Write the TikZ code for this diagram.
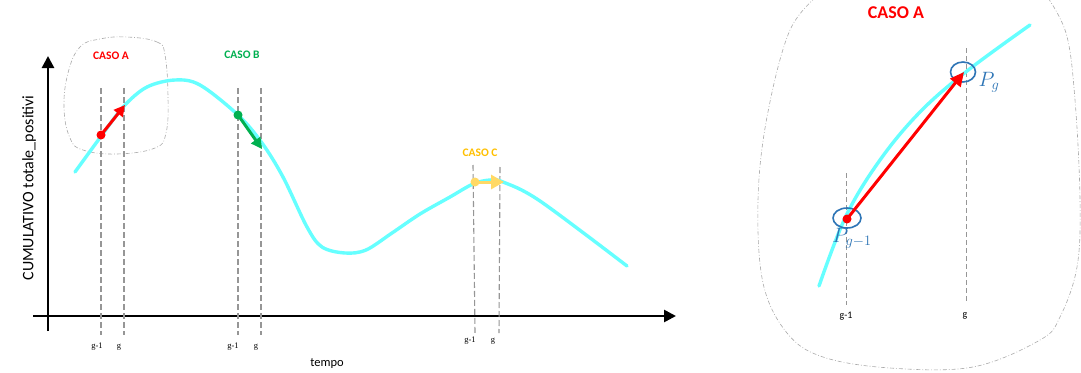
\documentclass[tikz,border=0pt]{standalone}
\usepackage{fontspec}
\setmainfont{Carlito}
\newfontfamily\tickfont{Liberation Serif}
\usetikzlibrary{arrows.meta,shapes.geometric}
\definecolor{curvecyan}{RGB}{102,255,255}
\definecolor{caseA}{RGB}{255,0,0}
\definecolor{caseB}{RGB}{0,176,80}
\definecolor{caseC}{RGB}{255,192,0}
\definecolor{arrowC}{RGB}{255,217,102}
\definecolor{pblue}{RGB}{46,117,182}
\definecolor{dashgray}{RGB}{150,150,150}
\definecolor{blobgray}{RGB}{170,170,170}
\begin{document}
\begin{tikzpicture}[x=1pt,y=-1pt,
  axis/.style={line width=2.6pt,-{Triangle[length=12pt,width=12pt]}},
  curveline/.style={curvecyan,line width=3.4pt,line cap=round},
  guide/.style={dashgray,line width=1.1pt,dash pattern=on 6pt off 3pt},
  blob/.style={blobgray,line width=0.6pt,dash pattern=on 4pt off 2pt on 0.8pt off 2pt},
  dot/.style={circle,fill=#1,inner sep=0pt,minimum size=9pt},
  vec/.style={#1,line width=3pt,-{Triangle[length=11pt,width=11pt]}},
  casetxt/.style={font=\bfseries\fontsize{11.5}{13}\selectfont,text=#1},
  tick/.style={font=\tickfont\fontsize{8.5}{9}\selectfont,inner sep=0pt},
  rtick/.style={font=\fontsize{10}{12}\selectfont,inner sep=0pt},
  ring/.style={draw=pblue,line width=1.6pt,ellipse,inner sep=0pt},
  plabel/.style={text=pblue,font=\fontsize{21}{23}\selectfont}
]
\clip (0,0) rectangle (1081,372);
\fill[white] (0,0) rectangle (1081,372);

% ---------- left panel ----------
\draw[blob] plot[smooth cycle,tension=0.7] coordinates {
  (127,37) (157,42) (165,55) (168,97) (166,133) (155,148) (117,154)
  (83,150) (70,138) (64,108) (68,73) (80,47) (100,39)};

\coordinate (xs) at (33,316);
\coordinate (xe) at (676,316);
\coordinate (ys) at (48,331);
\coordinate (ye) at (48,56);
\draw[axis] (xs) -- (xe);
\draw[axis] (ys) -- (ye);

\node[rotate=90,font=\fontsize{16}{18}\selectfont] (ylab) at (29,188) {CUMULATIVO totale\_positivi};
\node[font=\fontsize{12.5}{14}\selectfont] (xlab) at (327,364) {tempo};

% guides
\coordinate (a0t) at (101,88);  \coordinate (a0b) at (101,335);
\coordinate (a1t) at (124,88);  \coordinate (a1b) at (124,335);
\coordinate (b0t) at (238,88);  \coordinate (b0b) at (238,335);
\coordinate (b1t) at (261,88);  \coordinate (b1b) at (261,335);
\coordinate (c0t) at (473,165); \coordinate (c0b) at (475,333);
\coordinate (c1t) at (500,167); \coordinate (c1b) at (499,333);
\foreach \p in {a0,a1,b0,b1,c0,c1} \draw[guide] (\p t) -- (\p b);

\node[tick] (ta0) at (97,347) {g-1};
\node[tick] (ta1) at (119,347) {g};
\node[tick] (tb0) at (233,347) {g-1};
\node[tick] (tb1) at (256,347) {g};
\node[tick] (tc0) at (470,341) {g-1};
\node[tick] (tc1) at (493,341) {g};

\draw[curveline] plot[smooth,tension=0.55] coordinates {
  (75,172) (102,135) (124,106) (147,87) (175,80) (200,85) (238,115)
  (262,143) (283,177) (307,227) (322,247) (345,253) (366,250) (392,233)
  (420,214) (450,197) (473,184) (490,180) (503,182) (540,201) (627,266)};

\node[casetxt=caseA] (cA) at (111,56) {CASO A};
\node[casetxt=caseB] (cB) at (242,55) {CASO B};
\node[casetxt=caseC] (cC) at (480,153) {CASO C};

\node[dot=caseA] (pA) at (101,135) {};
\coordinate (qA) at (125,105);
\draw[vec=caseA] (pA.center) -- (qA);

\node[dot=caseB] (pB) at (238,115) {};
\coordinate (qB) at (262,149);
\draw[vec=caseB] (pB.center) -- (qB);

\node[dot=arrowC] (pC) at (475,182) {};
\coordinate (qC) at (504,182);
\draw[arrowC,line width=3pt,-{Triangle[length=13pt,width=14pt]}] (pC.center) -- (qC);

% ---------- right panel ----------
\draw[blob] plot[smooth,tension=0.6] coordinates {
  (822,-8) (790,30) (767,117) (758,200) (763,283) (787,333) (823,357)
  (890,368) (973,367) (1040,340) (1060,317) (1077,267) (1080,200)
  (1075,100) (1066,33) (1044,-8)};

\node[font=\bfseries\fontsize{18}{20}\selectfont,text=caseA] (cAr) at (896,13) {CASO A};

\coordinate (r0t) at (846,173); \coordinate (r0b) at (846,305);
\coordinate (r1t) at (966,48);  \coordinate (r1b) at (966,303);
\draw[guide,line width=0.9pt,dash pattern=on 5pt off 3pt] (r0t) -- (r0b);
\draw[guide,line width=0.9pt,dash pattern=on 5pt off 3pt] (r1t) -- (r1b);
\node[rtick] (rt0) at (846,316) {g-1};
\node[rtick] (rt1) at (965,316) {g};

\draw[curveline] plot[smooth,tension=0.6] coordinates {
  (819,286) (846,216) (880,160) (920,112) (967,71) (1030,25)};

\node[ring,minimum width=28pt,minimum height=20pt] (e0) at (847,218) {};
\node[ring,minimum width=25pt,minimum height=20pt] (e1) at (963,72) {};

\node[dot=caseA] (pR) at (847,219) {};
\coordinate (qR) at (964,72);
\draw[caseA,line width=3pt,-{Triangle[length=14pt,width=13pt]}] (pR.center) -- (qR);

\node[plabel] (lg) at (989,82) {$P_g$};
\node[plabel] (lg1) at (852,238) {$P_{g-1}$};
\end{tikzpicture}
\end{document}
